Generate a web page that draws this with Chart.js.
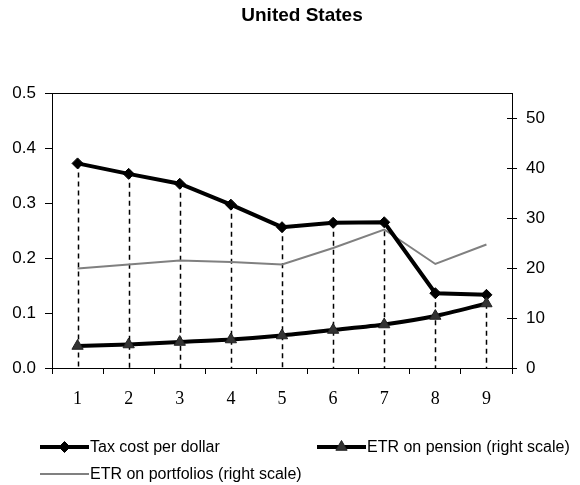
<!DOCTYPE html>
<html>
<head>
<meta charset="utf-8">
<script src="https://cdn.jsdelivr.net/npm/chart.js@4.4.1/dist/chart.umd.min.js"></script>
<style>
  html, body { margin: 0; padding: 0; background: #ffffff; }
  #wrap { width: 580px; height: 485px; position: relative; }
</style>
</head>
<body>
<div id="wrap"><canvas id="chart" width="580" height="485"></canvas></div>
<script>
// Income groups along the horizontal axis
const categories = ['1', '2', '3', '4', '5', '6', '7', '8', '9'];

// Tax cost per dollar (left scale)
const taxCost = [0.372, 0.353, 0.335, 0.297, 0.256, 0.264, 0.265, 0.136, 0.133];

// Effective tax rates, percent (right scale)
const etrPension = [4.4, 4.7, 5.2, 5.7, 6.5, 7.6, 8.7, 10.4, 12.9];
const etrPortfolios = [19.9, 20.7, 21.5, 21.2, 20.7, 24.0, 27.7, 20.8, 24.7];

// Axis ticks
const leftTicks = [0, 0.1, 0.2, 0.3, 0.4, 0.5];
const rightTicks = [0, 10, 20, 30, 40, 50];

const titleText = 'United States';
const seriesNames = ['Tax cost per dollar', 'ETR on pension (right scale)', 'ETR on portfolios (right scale)'];

// Dashed drop lines from each tax-cost point to the category axis
const dropLines = {
  id: 'dropLines',
  beforeDatasetsDraw(chart) {
    const ctx = chart.ctx;
    const meta = chart.getDatasetMeta(0);
    const bottom = chart.chartArea.bottom;
    ctx.save();
    ctx.strokeStyle = '#000';
    ctx.lineWidth = 1.5;
    ctx.setLineDash([5, 4]);
    meta.data.forEach(pt => {
      ctx.beginPath();
      ctx.moveTo(Math.round(pt.x) + 0.5, pt.y);
      ctx.lineTo(Math.round(pt.x) + 0.5, bottom);
      ctx.stroke();
    });
    ctx.restore();
  }
};

// Plot frame, inner right-axis ticks, title and legend
const decorations = {
  id: 'decorations',
  afterDraw(chart) {
    const ctx = chart.ctx;
    const a = chart.chartArea;
    ctx.save();
    ctx.strokeStyle = '#000';
    ctx.lineWidth = 1;
    ctx.beginPath();
    ctx.moveTo(a.left, Math.round(a.top) + 0.5);
    ctx.lineTo(a.right, Math.round(a.top) + 0.5);
    ctx.stroke();

    const y1 = chart.scales.y1;
    rightTicks.forEach(v => {
      const py = Math.round(y1.getPixelForValue(v)) + 0.5;
      ctx.beginPath();
      ctx.moveTo(a.right - 5, py);
      ctx.lineTo(a.right, py);
      ctx.stroke();
    });

    // title
    ctx.fillStyle = '#000';
    ctx.font = 'bold 19px "Liberation Sans", Arial, sans-serif';
    ctx.textAlign = 'center';
    ctx.textBaseline = 'middle';
    ctx.fillText(titleText, 302, 16);

    // legend
    const ds = chart.data.datasets;
    const items = [
      { i: 0, x: 40, y: 447 },
      { i: 1, x: 317, y: 447 },
      { i: 2, x: 40, y: 474 }
    ];
    ctx.font = '16px "Liberation Sans", Arial, sans-serif';
    ctx.textAlign = 'left';
    items.forEach(it => {
      const d = ds[it.i];
      ctx.save();
      ctx.strokeStyle = d.borderColor;
      ctx.lineWidth = d.borderWidth;
      ctx.beginPath();
      ctx.moveTo(it.x, it.y);
      ctx.lineTo(it.x + 49, it.y);
      ctx.stroke();
      if (d.pointRadius > 0) {
        ctx.fillStyle = d.pointBackgroundColor;
        ctx.strokeStyle = d.pointBorderColor;
        ctx.lineWidth = 1;
        Chart.helpers.drawPoint(ctx, {
          pointStyle: d.pointStyle,
          radius: d.pointRadius,
          rotation: 0,
          borderWidth: 1
        }, it.x + 24.5, it.y);
      }
      ctx.restore();
      ctx.fillStyle = '#000';
      ctx.fillText(d.label, it.x + 50, it.y + 1);
    });
    ctx.restore();
  }
};

new Chart(document.getElementById('chart'), {
  type: 'line',
  data: {
    labels: categories,
    datasets: [
      {
        label: seriesNames[0],
        data: taxCost,
        yAxisID: 'y',
        borderColor: '#000',
        backgroundColor: '#000',
        borderWidth: 4,
        pointStyle: 'rectRot',
        pointRadius: 5.5,
        pointBackgroundColor: '#000',
        pointBorderColor: '#000',
        pointBorderWidth: 1,
        tension: 0,
        order: 2
      },
      {
        label: seriesNames[1],
        data: etrPension,
        yAxisID: 'y1',
        borderColor: '#000',
        backgroundColor: '#333',
        borderWidth: 4,
        pointStyle: 'triangle',
        pointRadius: 6.5,
        pointBackgroundColor: '#333',
        pointBorderColor: '#222',
        pointBorderWidth: 1,
        tension: 0.25,
        order: 1
      },
      {
        label: seriesNames[2],
        data: etrPortfolios,
        yAxisID: 'y1',
        borderColor: '#808080',
        backgroundColor: '#808080',
        borderWidth: 2,
        pointRadius: 0,
        tension: 0,
        order: 3
      }
    ]
  },
  options: {
    responsive: false,
    animation: false,
    layout: { padding: { top: 93, left: 0, right: 0, bottom: 0 } },
    plugins: {
      legend: { display: false },
      title: { display: false },
      tooltip: { enabled: false }
    },
    scales: {
      x: {
        offset: true,
        grid: { offset: true, drawOnChartArea: false, tickLength: 6, color: '#000', lineWidth: 1 },
        border: { color: '#000', width: 1 },
        ticks: {
          color: '#000',
          padding: 14,
          maxRotation: 0,
          font: { family: '"Liberation Serif", "Times New Roman", serif', size: 18 }
        },
        afterFit(scale) { scale.height = 117; }
      },
      y: {
        position: 'left',
        min: 0,
        max: 0.5,
        afterBuildTicks(scale) { scale.ticks = leftTicks.map(v => ({ value: v })); },
        grid: { drawOnChartArea: false, tickLength: 7, color: '#000', lineWidth: 1 },
        border: { color: '#000', width: 1 },
        ticks: {
          color: '#000',
          padding: 9,
          font: { family: '"Liberation Sans", Arial, sans-serif', size: 17 },
          callback: v => v.toFixed(1)
        },
        afterFit(scale) { scale.width = 52; }
      },
      y1: {
        position: 'right',
        min: 0,
        max: 55,
        afterBuildTicks(scale) { scale.ticks = rightTicks.map(v => ({ value: v })); },
        grid: { drawOnChartArea: false, tickLength: 5, color: '#000', lineWidth: 1 },
        border: { color: '#000', width: 1 },
        ticks: {
          color: '#000',
          padding: 9,
          font: { family: '"Liberation Sans", Arial, sans-serif', size: 17 },
          callback: v => String(v)
        },
        afterFit(scale) { scale.width = 68; }
      }
    }
  },
  plugins: [dropLines, decorations]
});
</script>
</body>
</html>
